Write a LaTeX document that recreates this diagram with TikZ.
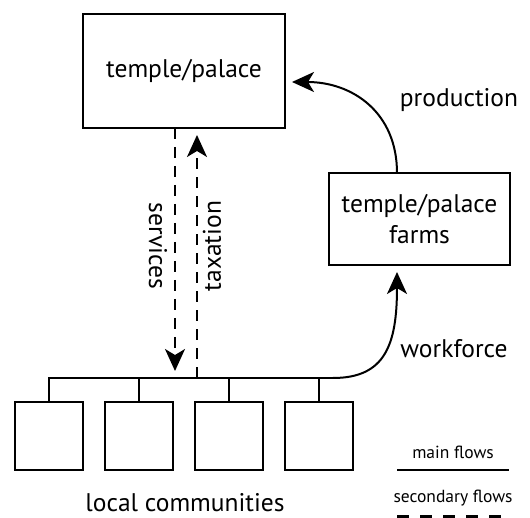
\documentclass[tikz,border=0pt]{standalone}
\usepackage{fontspec}
\setmainfont{PT Sans}
\usetikzlibrary{arrows.meta}
\begin{document}
\begin{tikzpicture}[x=1pt,y=-1pt,
  every node/.style={inner sep=0pt, outer sep=0pt},
  bx/.style={draw, line width=2pt},
  flow/.style={line width=2pt},
  dflow/.style={line width=2pt, dash pattern=on 11pt off 8pt},
  tip/.style={-{Stealth[length=22pt,width=20pt,inset=6pt]}, shorten >=7pt},
  lbl/.style={font=\fontsize{25.5}{31}\selectfont},
  small/.style={font=\fontsize{17.5}{20}\selectfont}]
\useasboundingbox (0,0) rectangle (530,518);
% main boxes
\node[bx, minimum width=202pt, minimum height=114pt, lbl] (tp) at (184,71) {temple/palace};
\node[bx, minimum width=181pt, minimum height=92pt, lbl, align=center] (farms) at (419.5,219) {temple/palace\\farms};
% communities
\foreach \i/\cx in {1/49,2/139,3/229,4/319}{
  \node[bx, minimum width=68pt, minimum height=68pt] (c\i) at (\cx,436) {};
}
\coordinate (busL) at (49,378);
\coordinate (busR) at (333,378);
\coordinate (fN) at (397,173);
\coordinate (fS) at (397,265);
\coordinate (tpE) at (285,82);
\coordinate (s1) at (175,128);
\coordinate (s2) at (175,378);
\coordinate (t1) at (197,378);
\coordinate (t2) at (197,128);
% bus
\draw[flow] (c1.north) |- (busR);
\foreach \i in {2,3,4}{ \draw[flow] (c\i.north) -- (c\i.north |- busL); }
% workforce
\draw[flow, tip] (busR) .. controls (385,378) and (397,345) .. (fS);
% production
\draw[flow, tip] (fN) .. controls (397,112) and (352,82) .. (tpE);
% services / taxation
\draw[dflow, tip] (s1) -- (s2);
\draw[dflow, tip] (t1) -- (t2);
\node[lbl, rotate=-90] (serv) at (158,246) {services};
\node[lbl, rotate=90] (tax) at (212,246) {taxation};
\node[lbl] (prod) at (459,100) {production};
\node[lbl] (work) at (454,349) {workforce};
\node[lbl, anchor=base] (loc) at (185,511) {local communities};
% legend
\node[small] (mf) at (453,452) {main flows};
\node[small] (sf) at (453,498) {secondary flows};
\coordinate (m1) at (397,470);
\coordinate (m2) at (509,470);
\draw[flow] (m1) -- (m2);
\coordinate (d1) at (397,516);
\coordinate (d2) at (509,516);
\draw[line width=3pt, dash pattern=on 12pt off 11pt] (d1) -- (d2);
\end{tikzpicture}
\end{document}
